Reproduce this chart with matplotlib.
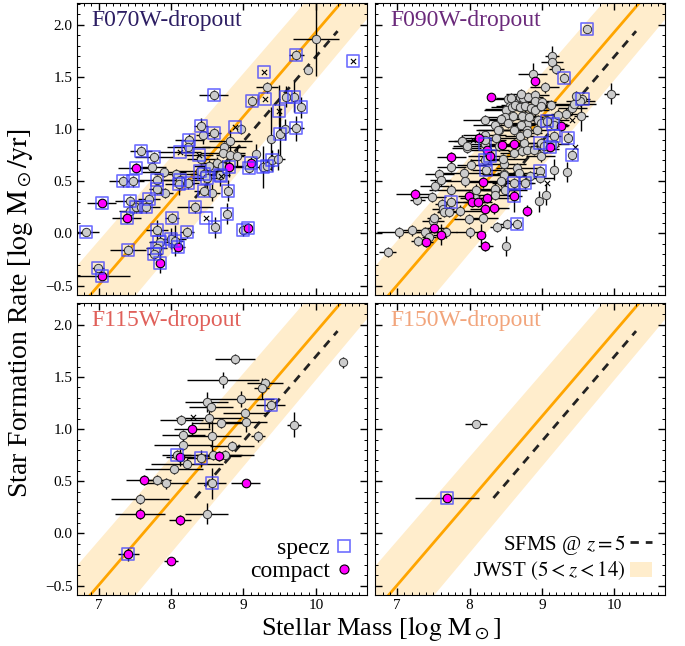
import matplotlib
matplotlib.use("Agg")
import matplotlib.pyplot as plt
import numpy as np
from matplotlib.lines import Line2D
from matplotlib.patches import Patch

plt.rcParams["font.family"] = ["Liberation Serif", "DejaVu Serif"]
plt.rcParams["mathtext.fontset"] = "stix"

# ---- model lines ----
jwst_mass = [6.5, 11.0]
jwst_sfr = [-0.90, 2.74]
jwst_lo = [-1.42, 2.31]
jwst_hi = [-0.46, 3.15]
sfms_mass = [8.33, 10.30]
sfms_sfr = [0.34, 1.94]

# ---- F070W-dropouts ----
f070_mass = [6.82, 6.99, 7.05, 7.04, 7.39, 7.52, 7.41, 7.34, 7.47, 7.58,
             7.76, 7.73, 7.43, 7.43, 7.52, 7.59, 7.65, 7.69, 7.81, 7.80,
             7.90, 7.92, 7.81, 7.84, 7.80, 7.77, 7.85, 8.01, 8.00, 8.06,
             8.09, 8.22, 8.07, 8.12, 8.11, 8.23, 8.25, 8.24, 8.12, 8.33,
             8.41, 8.44, 8.59, 8.59, 8.38, 8.42, 8.40, 8.46, 8.49, 8.52,
             8.46, 8.57, 8.48, 8.61, 8.63, 8.67, 8.70, 8.73, 8.72, 8.82,
             8.82, 8.80, 8.69, 8.79, 8.77, 8.88, 8.96, 8.91, 8.99, 9.06,
             9.10, 9.07, 9.17, 9.28, 9.30, 9.33, 9.12, 9.27, 9.32, 9.38,
             9.40, 9.48, 9.49, 9.50, 9.57, 9.59, 9.70, 9.73, 9.79, 9.73,
             9.89, 10.00, 10.52]
f070_sfr = [0.01, -0.33, -0.41, 0.29, 0.15, 0.63, -0.16, 0.50, 0.50, 0.79,
            0.73, 0.64, 0.31, 0.22, 0.25, 0.25, 0.25, 0.33, 0.51, 0.43,
            0.59, 0.39, 0.03, -0.08, -0.14, -0.20, -0.28, 0.15, -0.05, -0.07,
            -0.13, 0.01, 0.57, 0.51, 0.47, 0.48, 0.90, 0.83, 0.78, 0.25,
            1.03, 0.94, 0.96, 1.33, 0.75, 0.71, 0.60, 0.57, 0.53, 0.65,
            0.41, 0.39, 0.15, 0.06, 0.68, 0.56, 0.65, 0.83, 0.77, 0.89,
            0.75, 0.64, 0.55, 0.41, 0.19, 1.02, 1.00, 0.74, 0.03, 0.05,
            0.68, 0.63, 0.76, 1.55, 1.29, 1.40, 1.27, 0.64, 0.65, 0.91,
            0.70, 0.71, 1.17, 0.95, 1.00, 1.31, 1.31, 1.71, 1.21, 1.01,
            1.57, 1.86, 1.65]
f070_xerr = [.18, .08, .38, .2, .2, .25, .25, .2, .15, .15,
             .26, .2, .2, .15, .1, .1, .2, .15, .3, .1,
             .3, .1, .15, .15, .15, .1, .05, .1, .2, .1,
             .1, .1, .3, .3, .2, .15, .2, .3, .3, .25,
             .1, .1, .1, .2, .2, .2, .3, .2, .2, .2,
             .15, .1, 0, .05, .2, .15, .3, .3, .3, .3,
             .2, .2, 0, .05, .05, 0, .05, .1, .05, .05,
             .05, .05, .05, 0, 0, .15, .05, .1, .1, .05,
             .1, .1, 0, .05, .05, .05, .05, .1, .05, .1,
             0, .32, 0]
f070_yerr = [0, 0, 0, 0, .05, .05, .05, .05, .05, .05,
             .05, .05, .05, .05, .05, .05, .05, .05, .05, .05,
             .05, .05, .1, .1, .05, .05, .1, .05, .1, .15,
             .05, .05, .05, .05, .1, .05, .05, .05, 0, .05,
             .08, .08, .05, .05, 0, .05, .05, .08, .1, .05,
             .05, .08, 0, .1, .05, .1, .05, .05, .05, .1,
             .05, .1, 0, .1, .1, 0, .05, .1, .05, .05,
             .05, .05, .1, 0, 0, .05, .05, .2, .05, .3,
             .1, .1, .25, .25, .1, .1, .15, .05, .1, .12,
             0, .35, 0]
f070_kind = ["gs", "gs", "cs", "cs", "cs", "cs", "gs", "gs", "gs", "gs",
             "gs", "g", "gs", "g", "gs", "g", "gs", "gs", "gs", "gs",
             "g", "g", "gs", "gs", "gs", "gs", "cs", "gs", "gs", "gs",
             "cs", "gs", "g", "gs", "gs", "gs", "gs", "gs", "xs", "gs",
             "gs", "g", "gs", "gs", "xs", "g", "gs", "gs", "gs", "g",
             "gs", "g", "xs", "gs", "g", "gs", "g", "g", "g", "g",
             "g", "cs", "xs", "gs", "gs", "xs", "g", "g", "gs", "cs",
             "cs", "gs", "g", "xs", "xs", "g", "gs", "gs", "gs", "g",
             "gs", "g", "xs", "gs", "g", "gs", "gs", "gs", "gs", "gs",
             "g", "g", "xs"]

# ---- F090W-dropouts ----
f090_mass = [6.87, 7.02, 7.21, 7.39, 7.40, 7.51, 7.60, 7.44, 7.67, 7.49,
             7.51, 7.24, 7.28, 7.48, 7.52, 7.58, 7.60, 7.62, 7.63, 7.65,
             7.74, 7.75, 7.72, 7.75, 7.75, 7.87, 7.89, 7.96, 7.92, 7.94,
             7.99, 8.03, 8.11, 7.99, 8.02, 8.01, 8.07, 8.09, 8.13, 8.16,
             8.22, 8.19, 8.21, 8.19, 8.21, 8.21, 8.24, 8.24, 8.28, 8.29,
             8.21, 8.34, 8.35, 8.38, 8.36, 8.40, 8.41, 8.45, 8.48, 8.47,
             8.49, 8.50, 8.52, 8.53, 8.52, 8.56, 8.61, 8.62, 8.65, 8.66,
             8.61, 8.69, 8.67, 8.74, 8.76, 8.75, 8.80, 8.79, 8.81, 8.87,
             8.90, 8.91, 8.94, 8.95, 8.96, 8.97, 8.98, 9.03, 9.04, 9.05,
             9.07, 9.11, 9.12, 9.15, 9.17, 9.17, 9.14, 9.14, 9.20, 9.26,
             9.30, 9.34, 9.36, 9.42, 9.45, 9.41, 9.33, 9.42, 9.44, 9.54,
             9.56, 9.53, 9.62, 9.96, 8.57, 8.71, 8.91, 9.00, 8.50, 8.59,
             8.63, 8.70, 8.77, 8.85, 8.90, 8.98, 8.49, 8.60, 8.73, 8.82,
             9.05, 9.18, 8.21, 8.35, 8.44, 8.53, 8.71, 8.98, 8.39, 8.62,
             8.80, 8.93, 9.17, 8.69, 8.97, 8.84, 8.77, 8.68, 8.48, 8.44,
             8.35, 8.35, 8.46, 8.62, 8.73, 8.80, 8.89, 8.98, 9.03, 9.17,
             8.80, 8.21, 8.23, 7.29, 7.90, 7.97, 8.05, 9.47, 9.22, 9.07]
f090_sfr = [-0.18, 0.01, 0.03, 0.01, -0.08, 0.05, -0.01, -0.03, 0.01, 0.12,
            0.15, 0.38, 0.32, 0.35, 0.46, 0.57, 0.51, 0.28, 0.23, 0.21,
            0.42, 0.30, 0.21, 0.73, 0.64, 0.22, 0.89, 0.82, 0.58, 0.50,
            0.36, 0.30, 0.30, 0.14, 0.66, 0.01, 0.34, 0.42, 0.92, -0.01,
            -0.12, 0.49, 0.23, 0.15, 0.70, 0.86, 0.80, 0.34, 0.74, 1.31,
            0.94, 0.24, 0.42, 0.06, 0.92, 0.84, 0.99, 0.85, 0.67, 0.57,
            0.42, -0.12, 0.09, 1.29, 1.19, 1.22, 0.86, 0.36, 0.09, 0.63,
            0.48, 1.31, 1.22, 1.30, 1.13, 0.87, 0.22, 1.05, 1.31, 1.53,
            1.33, 1.46, 1.21, 1.09, 0.31, 0.60, 0.87, 0.81, 1.40, 0.37,
            0.48, 0.83, 1.23, 1.05, 0.93, 0.61, 1.70, 1.64, 1.58, 1.03,
            1.49, 0.59, 0.92, 0.75, 0.83, 1.09, 1.15, 1.20, 1.24, 1.13,
            1.29, 1.27, 1.96, 1.34, 1.30, 1.34, 1.27, 1.26, 1.18, 1.21,
            1.23, 1.21, 1.22, 1.20, 1.18, 1.22, 1.12, 1.13, 1.13, 1.12,
            1.09, 1.09, 1.09, 1.04, 1.10, 1.06, 1.04, 1.06, 0.99, 0.99,
            0.99, 0.99, 1.04, 0.93, 0.53, 0.55, 0.48, 0.58, 0.56, 0.50,
            0.43, 0.37, 0.71, 0.77, 0.79, 0.80, 0.80, 0.74, 0.84, 0.86,
            0.96, 0.90, 0.61, -0.07, 0.89, 0.84, 0.90, 1.32, 1.14, 1.08]
f090_xerr = [.12, .3, .15, .2, .1, .15, .1, .1, .15, .15,
             .1, .25, .1, .2, .2, .2, .15, .1, .15, .1,
             .3, .1, .15, .2, .2, .3, .1, .2, .3, .3,
             .15, .2, .2, .2, .2, .2, .2, .3, .2, .05,
             .1, .2, .2, .2, .2, .3, .3, .3, .3, 0,
             .3, .2, .3, .1, .3, .3, .3, .3, .3, .3,
             .3, 0, .1, .2, .3, .2, .2, .1, 0, .3,
             .3, .2, .2, .2, .2, .2, .05, .3, .2, .2,
             .2, .05, .2, .2, .05, .05, .2, .2, .2, .05,
             0, .1, .3, .2, .1, .05, .1, .15, .1, .1,
             .05, .05, .05, .05, 0, 0, .2, .2, .3, .1,
             .1, .2, 0, .1, .2, .2, .2, .2, .3, .3,
             .2, .2, .2, .2, .2, .2, .3, .2, .2, .2,
             .2, .2, .3, .3, .3, .2, .2, .2, .3, .2,
             .2, .2, .2, .2, .2, .2, .1, .3, .3, .3,
             .3, .3, .3, .2, .2, .2, .2, .2, .2, .2,
             .2, .3, .2, .1, .2, .2, 0, .05, .2, .1]
f090_yerr = [.05, .05, .05, .05, .05, .05, .1, .05, .05, .05,
             .05, .05, .05, .05, .05, .05, .05, .05, .05, .05,
             .05, .05, .05, .05, .05, .05, .05, .05, .05, .05,
             .05, .05, .05, .05, .05, .05, .05, .05, .05, .1,
             .05, .05, .05, .05, .05, .05, .05, .05, .05, 0,
             .05, .05, .05, .05, .05, .05, .05, .05, .05, .05,
             .05, .1, .05, .05, .05, .05, .05, .15, .05, .05,
             .05, .05, .05, .05, .05, .05, .05, .05, .05, .1,
             .05, .05, .05, .05, .1, .05, .05, .05, .05, .1,
             0, .05, .05, .05, .05, .1, .1, .05, .05, .05,
             .05, .1, .05, .05, 0, 0, .05, .05, .05, .15,
             .05, .05, 0, .1, .05, .05, .05, .05, .05, .05,
             .05, .05, .05, .05, .05, .05, .05, .05, .05, .05,
             .05, .05, .05, .05, .05, .05, .05, .05, .05, .05,
             .05, .05, .05, .05, .05, .05, .05, .05, .05, .05,
             .05, .05, .05, .05, .05, .05, .05, .05, .05, .05,
             .05, .05, .05, .05, .05, .05, 0, .05, .05, .05]
f090_kind = ["g", "g", "g", "g", "c", "c", "c", "g", "g", "g",
             "g", "c", "g", "g", "g", "g", "g", "g", "g", "g",
             "g", "gs", "g", "c", "g", "g", "g", "g", "g", "g",
             "c", "c", "c", "g", "g", "g", "g", "g", "c", "c",
             "c", "c", "c", "g", "gs", "gs", "c", "c", "cs", "c",
             "g", "c", "g", "g", "g", "g", "g", "c", "g", "g",
             "g", "g", "g", "g", "g", "g", "c", "cs", "gs", "g",
             "gs", "g", "g", "g", "g", "g", "c", "g", "g", "g",
             "g", "c", "g", "g", "g", "gs", "gs", "g", "g", "g",
             "x", "cs", "g", "gs", "gs", "g", "g", "g", "g", "c",
             "gs", "g", "gs", "gs", "x", "x", "g", "g", "g", "g",
             "gs", "g", "gs", "g", "g", "g", "g", "g", "g", "g",
             "g", "g", "g", "g", "g", "g", "g", "g", "g", "g",
             "g", "g", "g", "g", "g", "g", "g", "g", "g", "g",
             "g", "g", "g", "g", "g", "g", "gs", "g", "g", "g",
             "g", "g", "g", "g", "g", "g", "g", "g", "g", "g",
             "g", "g", "gs", "g", "g", "g", "x", "g", "g", "gs"]

# ---- F115W-dropouts ----
f115_mass = [8.88, 8.72, 9.30, 9.25, 8.97, 8.49, 8.55, 9.38, 9.02, 8.14,
             8.52, 8.69, 9.03, 9.70, 8.29, 8.17, 8.57, 9.20, 8.16, 8.84,
             8.08, 8.13, 8.22, 8.42, 8.58, 8.66, 8.75, 8.04, 7.80, 7.93,
             7.63, 8.56, 9.03, 7.57, 7.57, 8.12, 8.49, 7.41, 8.00, 10.37,
             8.30]
f115_sfr = [1.67, 1.47, 1.44, 1.39, 1.29, 1.26, 1.21, 1.23, 1.15, 1.09,
            1.11, 1.06, 1.07, 1.04, 1.00, 0.94, 0.93, 0.93, 0.85, 0.84,
            0.75, 0.73, 0.67, 0.72, 0.75, 0.74, 0.75, 0.62, 0.51, 0.48,
            0.51, 0.48, 0.48, 0.33, 0.19, 0.13, 0.19, -0.20, -0.26, 1.64,
            1.12]
f115_xerr = [.28, .5, .25, .1, .45, .3, .3, .2, .3, .3,
             .45, .4, .3, .1, .25, .3, .4, .1, .4, .3,
             .2, .2, .5, .2, .4, .3, .4, .4, .2, .3,
             .25, .2, .2, .4, .35, .15, .3, .15, .1, .05,
             0]
f115_yerr = [.05, .08, .05, .1, .08, .1, .05, .05, .05, .05,
             .1, .05, .1, .12, .07, .05, .15, .05, .05, .05,
             .05, .08, .05, .08, .05, .05, .05, .05, .05, .05,
             .05, .15, .03, .05, .05, .05, .1, .06, .03, .05,
             0]
f115_kind = ["g", "g", "g", "g", "g", "g", "g", "gs", "g", "g",
             "g", "g", "g", "g", "c", "g", "g", "g", "g", "g",
             "gs", "c", "g", "gs", "g", "c", "g", "g", "g", "g",
             "c", "gs", "c", "g", "c", "c", "g", "cs", "c", "g",
             "x"]

# ---- F150W-dropouts ----
f150_mass = [8.09, 7.69]
f150_sfr = [1.05, 0.34]
f150_xerr = [.15, .44]
f150_yerr = [.03, .03]
f150_kind = ["g", "cs"]

titles = ["F070W-dropout", "F090W-dropout", "F115W-dropout", "F150W-dropout"]
title_colors = ["#2d1e63", "#6b2a7b", "#e0605a", "#f2a57c"]

GREY = "#cccccc"
MAGENTA = "#ff00ff"
SQ_BLUE = "#3f3fff"


def draw_panel(ax, mass, sfr, xerr, yerr, kind, title, tcolor):
    ax.fill_between(jwst_mass, jwst_lo, jwst_hi, color="orange", alpha=0.2, lw=0, zorder=0)
    ax.plot(jwst_mass, jwst_sfr, color="orange", lw=2.0, zorder=1)
    ax.plot(sfms_mass, sfms_sfr, color="#222222", lw=2.0, ls=(0, (3, 2.5)), zorder=1)

    m = np.array(mass)
    s = np.array(sfr)
    k = np.array(kind)
    ax.errorbar(m, s, xerr=xerr, yerr=yerr, fmt="none", ecolor="k", elinewidth=1.0,
                capsize=0, zorder=2)

    grey = np.isin(k, ["g", "gs"])
    comp = np.isin(k, ["c", "cs"])
    cross = np.isin(k, ["x", "xs"])
    spec = np.isin(k, ["gs", "cs", "xs"])
    ax.scatter(m[grey], s[grey], s=36, c=GREY, edgecolors="#333333", linewidths=0.7, zorder=3)
    ax.scatter(m[comp], s[comp], s=38, c=MAGENTA, edgecolors="k", linewidths=0.8, zorder=4)
    ax.scatter(m[cross], s[cross], s=14, marker="x", c="k", linewidths=0.8, zorder=4)
    ax.scatter(m[spec], s[spec], s=75, marker="s", facecolors="none", edgecolors=SQ_BLUE,
               linewidths=1.2, alpha=0.75, zorder=5)

    ax.text(0.05, 0.975, title, transform=ax.transAxes, ha="left", va="top",
            fontsize=17, color=tcolor)

    ax.set_xlim(6.7, 10.7)
    ax.set_ylim(-0.59, 2.21)
    ax.set_xticks([7, 8, 9, 10])
    ax.set_yticks([-0.5, 0.0, 0.5, 1.0, 1.5, 2.0])
    ax.set_xticks(np.arange(6.7, 10.71, 0.1), minor=True)
    ax.set_yticks(np.arange(-0.5, 2.21, 0.1), minor=True)
    ax.tick_params(which="both", direction="in", top=True, right=True, labelsize=11, pad=3)
    ax.tick_params(which="major", length=5, width=1.0)
    ax.tick_params(which="minor", length=2.5, width=0.7)


fig, axes = plt.subplots(2, 2, figsize=(6.85, 6.46), dpi=100, sharex=True, sharey=True)
fig.subplots_adjust(left=0.1124, right=0.9708, bottom=0.079, top=0.9954, wspace=0.031, hspace=0.027)

panels = [
    (f070_mass, f070_sfr, f070_xerr, f070_yerr, f070_kind),
    (f090_mass, f090_sfr, f090_xerr, f090_yerr, f090_kind),
    (f115_mass, f115_sfr, f115_xerr, f115_yerr, f115_kind),
    (f150_mass, f150_sfr, f150_xerr, f150_yerr, f150_kind),
]
for ax, data, title, tc in zip(axes.flat, panels, titles, title_colors):
    draw_panel(ax, *data, title, tc)

for ax in axes[:, 0]:
    ax.set_yticklabels(["\u22120.5", "0.0", "0.5", "1.0", "1.5", "2.0"])

# legends
h1 = [
    Line2D([0], [0], marker="s", ls="none", markersize=9, markerfacecolor="none",
           markeredgecolor=SQ_BLUE, markeredgewidth=1.2, alpha=0.75, label="specz"),
    Line2D([0], [0], marker="o", ls="none", markersize=6.5, markerfacecolor=MAGENTA,
           markeredgecolor="k", markeredgewidth=0.8, label="compact"),
]
axes[1, 0].legend(handles=h1, loc="lower right", frameon=False, markerfirst=False,
                  fontsize=17, handlelength=0.8, handletextpad=0.2, labelspacing=0.05,
                  borderaxespad=0.15)
h2 = [
    Line2D([0], [0], color="#222222", lw=2.0, ls=(0, (3, 2.5)), label=r"SFMS @ $z=5$"),
    Patch(facecolor="orange", alpha=0.2, label=r"JWST $(5<z<14)$"),
]
axes[1, 1].legend(handles=h2, loc="lower right", frameon=False, markerfirst=False,
                  fontsize=15, handlelength=1.1, handletextpad=0.2, labelspacing=0.15,
                  borderaxespad=0.2)

fig.text(0.556, 0.004, r"Stellar Mass [$\log\,{\rm M}_\odot$]", ha="center", va="bottom", fontsize=19)
fig.text(0.008, 0.515, r"Star Formation Rate [$\log\,{\rm M}_\odot/{\rm yr}$]", ha="left",
         va="center", rotation=90, fontsize=20)

fig.savefig("out.png", dpi=100)
